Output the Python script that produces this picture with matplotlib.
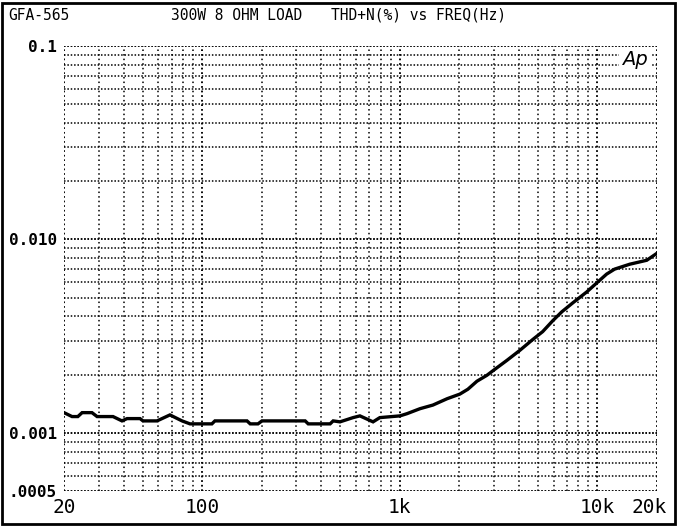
import numpy as np
import matplotlib
matplotlib.use("Agg")
import matplotlib.pyplot as plt
from matplotlib.ticker import FixedLocator, NullFormatter, LogLocator
from matplotlib.patches import Rectangle
import matplotlib.transforms as mtransforms

# ---- data ----
freq_hz = [20, 21.96, 23.5, 24.7, 27.7, 29.4, 35.4, 39.3, 41.7, 48.5, 50.2, 59.1,
           68.7, 79.1, 86.8, 112, 116, 168.6, 175, 191.6, 200.7, 332, 344, 444,
           460, 498, 580, 628, 732, 792, 1002, 1088, 1264, 1470, 1734, 2012,
           2210, 2456, 2758, 3026, 3480, 4040, 4700, 5280, 5940, 6600, 7500,
           8820, 9900, 11120, 12200, 14550, 17750, 20000]
thd_pct = [0.001271, 0.001213, 0.001213, 0.001271, 0.001271, 0.001213, 0.001213,
           0.001152, 0.001184, 0.001184, 0.001152, 0.001152, 0.001237, 0.001152,
           0.001112, 0.001112, 0.001152, 0.001152, 0.001112, 0.001112, 0.001152,
           0.001152, 0.001112, 0.001112, 0.001152, 0.001139, 0.001198, 0.001223,
           0.001139, 0.001198, 0.001223, 0.001256, 0.001332, 0.001391, 0.0015,
           0.001585, 0.00168, 0.001848, 0.001983, 0.00213, 0.002368, 0.002665,
           0.003034, 0.003335, 0.003798, 0.004223, 0.004697, 0.005348, 0.005948,
           0.006614, 0.007017, 0.00744, 0.0078, 0.00848]

x_ticks = [20, 100, 1000, 10000, 20000]
x_ticklabels = ["20", "100", "1k", "10k", "20k"]
y_ticks = [0.0005, 0.001, 0.01, 0.1]
y_ticklabels = [".0005", "0.001", "0.010", "0.1"]

title_left = "GFA-565"
title_mid = "300W 8 OHM LOAD"
title_right = "THD+N(%) vs FREQ(Hz)"

# ---- figure ----
W, H = 678, 527
fig = plt.figure(figsize=(W / 100, H / 100), dpi=100)
fig.patch.set_facecolor("white")
mono = "DejaVu Sans Mono"

left, right = 64 / W, 657 / W
top, bottom = 1 - 46 / H, 1 - 491 / H
ax = fig.add_axes([left, bottom, right - left, top - bottom])
ax.set_xscale("log")
ax.set_yscale("log")
ax.set_xlim(20, 20000)
ax.set_ylim(0.0005, 0.1)

for s in ax.spines.values():
    s.set_visible(False)

# grid: every 1..9 multiple
ax.xaxis.set_major_locator(FixedLocator(x_ticks))
ax.xaxis.set_minor_locator(LogLocator(base=10, subs=np.arange(1, 10)))
ax.yaxis.set_major_locator(FixedLocator(y_ticks))
ax.yaxis.set_minor_locator(LogLocator(base=10, subs=np.arange(1, 10)))
ax.xaxis.set_minor_formatter(NullFormatter())
ax.yaxis.set_minor_formatter(NullFormatter())
ax.xaxis.remove_overlapping_locs = False
ax.yaxis.remove_overlapping_locs = False

ax.grid(True, which="both", axis="x", color="black", linestyle=(0, (1, 2.0)), linewidth=1.1)
ax.grid(True, which="both", axis="y", color="black", linestyle=(0, (1, 1.2)), linewidth=1.1)
ax.tick_params(which="both", length=0)

ax.set_xticklabels(x_ticklabels, fontfamily=mono, fontsize=14)
ax.set_yticklabels(y_ticklabels, fontfamily=mono, fontsize=11.5, fontweight="bold")
ax.tick_params(axis="x", pad=5)
ax.tick_params(axis="y", pad=5)
# shift last x label left so it stays inside the frame
lbls = ax.get_xticklabels()
lbls[-1].set_transform(lbls[-1].get_transform() +
                       mtransforms.ScaledTranslation(-8 / 100, 0, fig.dpi_scale_trans))

# curve
ax.plot(freq_hz, thd_pct, color="black", linewidth=2.4, solid_joinstyle="miter", zorder=5)

# Ap logo
ax.text(0.963, 0.97, "Ap", transform=ax.transAxes, fontsize=14, fontstyle="italic",
        fontfamily="DejaVu Sans", ha="center", va="center",
        bbox=dict(facecolor="white", edgecolor="none", pad=2), zorder=6)

# titles
ty = 1 - 15 / H
fig.text(8 / W, ty, title_left, fontfamily=mono, fontsize=10.5, va="center", ha="left")
fig.text(171 / W, ty, title_mid, fontfamily=mono, fontsize=10.5, va="center", ha="left")
fig.text(331 / W, ty, title_right, fontfamily=mono, fontsize=10.5, va="center", ha="left")

# outer frame
fig.add_artist(Rectangle((2 / W, 3 / H), (675 - 2) / W, (524 - 3) / H,
                         transform=fig.transFigure, fill=False,
                         edgecolor="black", linewidth=2.0))

fig.savefig("out.png", dpi=100)
